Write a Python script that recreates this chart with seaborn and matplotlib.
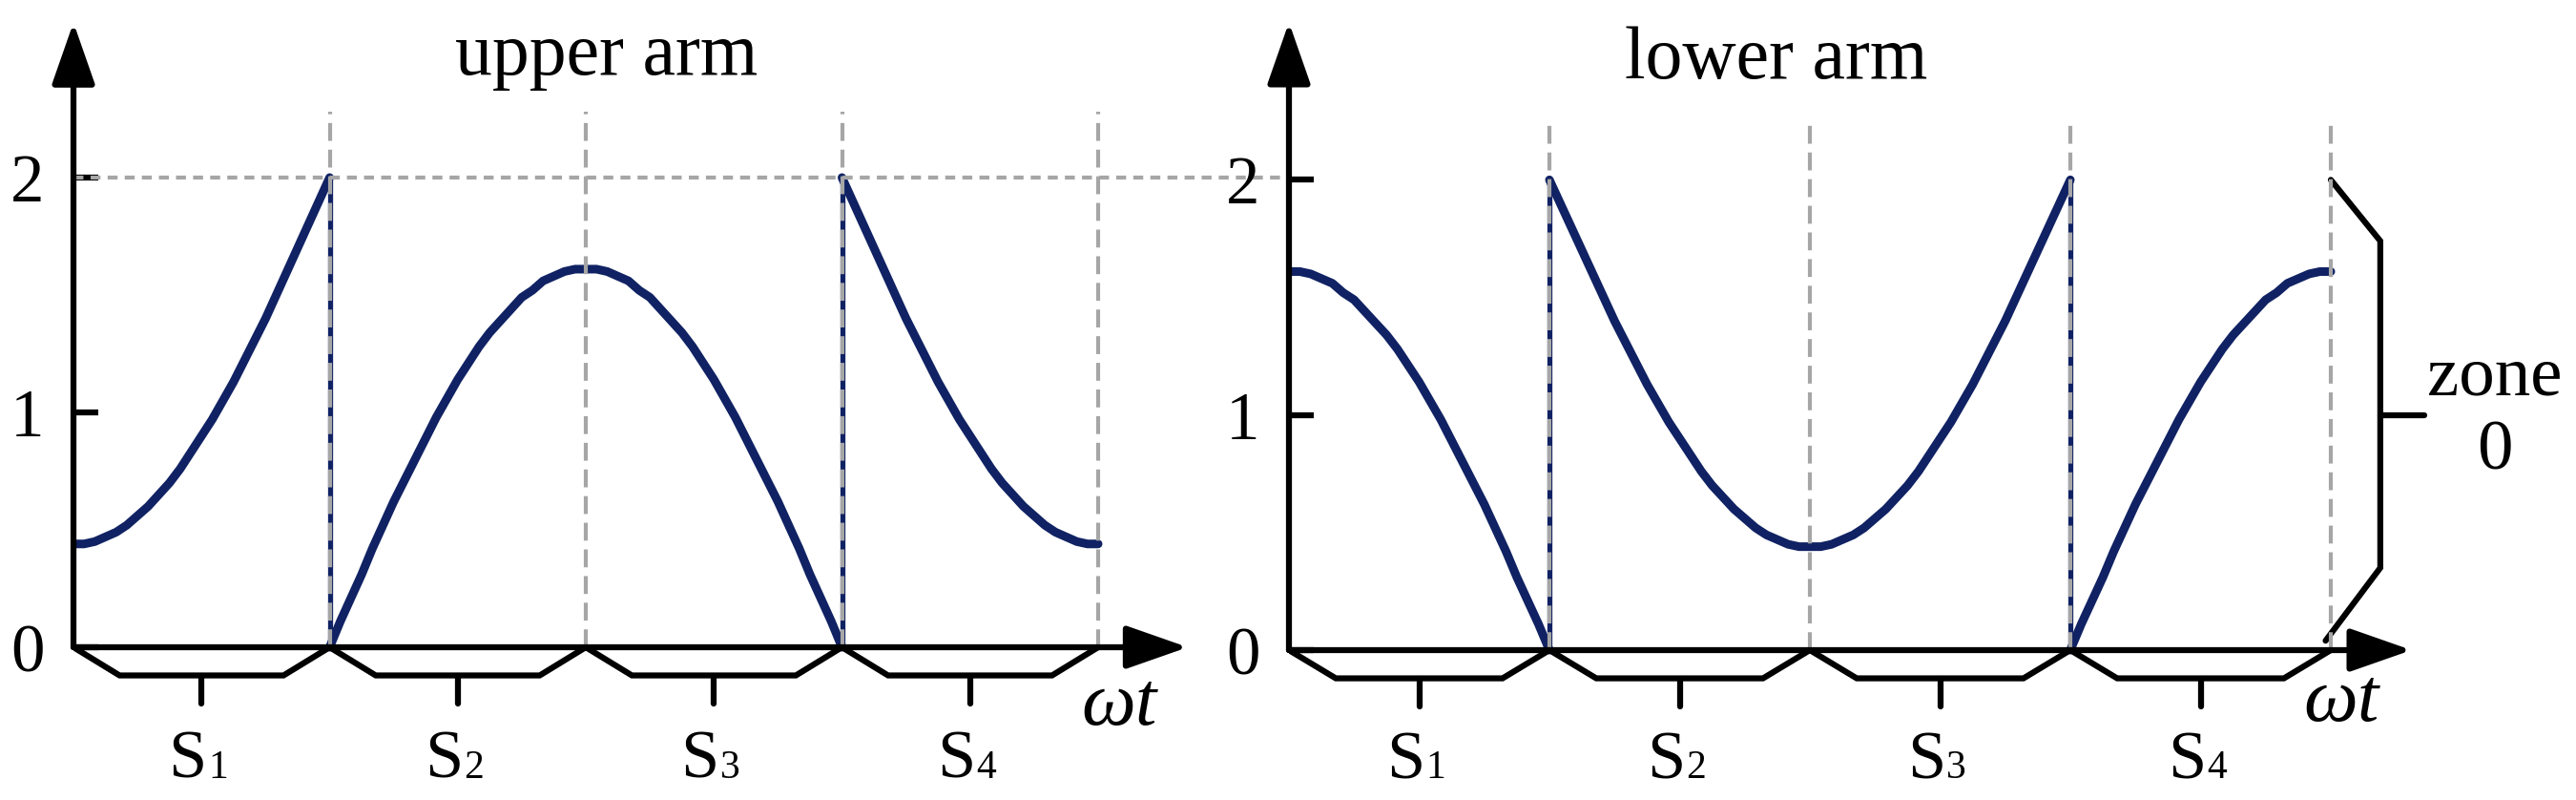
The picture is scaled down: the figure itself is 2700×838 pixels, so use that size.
import matplotlib
matplotlib.use('Agg')
import matplotlib.pyplot as plt
import numpy as np
import pandas as pd
import seaborn as sns

# values, 25 samples per sector
upper_s1 = [0.44, 0.44, 0.45, 0.47, 0.49, 0.52, 0.56, 0.60, 0.65, 0.70, 0.76, 0.83, 0.90,
            0.97, 1.05, 1.13, 1.22, 1.31, 1.40, 1.50, 1.60, 1.70, 1.80, 1.90, 2.00]
upper_s2 = [0.00, 0.11, 0.21, 0.31, 0.42, 0.52, 0.62, 0.71, 0.80, 0.89, 0.98, 1.06, 1.14,
            1.21, 1.28, 1.34, 1.39, 1.44, 1.49, 1.52, 1.56, 1.58, 1.60, 1.61, 1.61]
upper_s3 = [1.61, 1.61, 1.60, 1.58, 1.56, 1.52, 1.49, 1.44, 1.39, 1.34, 1.28, 1.21, 1.14,
            1.06, 0.98, 0.89, 0.80, 0.71, 0.62, 0.52, 0.42, 0.31, 0.21, 0.11, 0.00]
upper_s4 = [2.00, 1.90, 1.80, 1.70, 1.60, 1.50, 1.40, 1.31, 1.22, 1.13, 1.05, 0.97, 0.90,
            0.83, 0.76, 0.70, 0.65, 0.60, 0.56, 0.52, 0.49, 0.47, 0.45, 0.44, 0.44]

lower_s1 = [1.61, 1.61, 1.60, 1.58, 1.56, 1.52, 1.49, 1.44, 1.39, 1.34, 1.28, 1.21, 1.14,
            1.06, 0.98, 0.89, 0.80, 0.71, 0.62, 0.52, 0.42, 0.31, 0.21, 0.11, 0.00]
lower_s2 = [2.00, 1.90, 1.80, 1.70, 1.60, 1.50, 1.40, 1.31, 1.22, 1.13, 1.05, 0.97, 0.90,
            0.83, 0.76, 0.70, 0.65, 0.60, 0.56, 0.52, 0.49, 0.47, 0.45, 0.44, 0.44]
lower_s3 = [0.44, 0.44, 0.45, 0.47, 0.49, 0.52, 0.56, 0.60, 0.65, 0.70, 0.76, 0.83, 0.90,
            0.97, 1.05, 1.13, 1.22, 1.31, 1.40, 1.50, 1.60, 1.70, 1.80, 1.90, 2.00]
lower_s4 = [0.00, 0.11, 0.21, 0.31, 0.42, 0.52, 0.62, 0.71, 0.80, 0.89, 0.98, 1.06, 1.14,
            1.21, 1.28, 1.34, 1.39, 1.44, 1.49, 1.52, 1.56, 1.58, 1.60, 1.61, 1.61]

sector_letter = 'S'
sector_index = ['1', '2', '3', '4']
y_ticks = [0, 1, 2]
titles = ['upper arm', 'lower arm']
zone_label = 'zone\n0'

NAVY = '#102263'
GRAY = '#a6a6a6'

sns.set_theme(style='white')
plt.rcParams['font.family'] = ['Liberation Serif', 'DejaVu Serif']
plt.rcParams['text.color'] = 'black'
plt.rcParams['ytick.color'] = 'black'


def to_frame(segs):
    rows = []
    for k, vals in enumerate(segs):
        xs = np.linspace(k, k + 1, len(vals))
        for x, v in zip(xs, vals):
            rows.append({'x': x, 'y': v, 'sector': k})
    return pd.DataFrame(rows)


def draw_panel(ax, segs, title, title_pos, wt_pos, vtop, x_arrow, label_base):
    for s in ax.spines.values():
        s.set_visible(False)
    n = len(segs)
    df = to_frame(segs)
    sns.lineplot(data=df, x='x', y='y', units='sector', estimator=None,
                 color=NAVY, lw=6.5, ax=ax, zorder=2, sort=False)
    # vertical jumps between sectors
    for k in range(n - 1):
        a, b = segs[k][-1], segs[k + 1][0]
        if abs(a - b) > 0.05:
            ax.plot([k + 1, k + 1], [a, b], color=NAVY, lw=3.8, zorder=2)
    # sector boundaries
    for k in range(1, n + 1):
        ax.plot([k, k], [0, vtop], color=GRAY, lw=3, ls=(0, (4.5, 2.2)), zorder=4)
    # axes with arrow heads
    ymax = ax.get_ylim()[1]
    arrow = dict(arrowstyle='-|>,head_length=0.8,head_width=0.28', mutation_scale=50,
                 lw=4.5, color='black', shrinkA=0, shrinkB=0)
    ax.annotate('', xy=(0, ymax), xytext=(0, 0), arrowprops=arrow, zorder=5)
    ax.annotate('', xy=(x_arrow, 0), xytext=(0, 0), arrowprops=arrow, zorder=5)
    # sector braces under the axis
    for k in range(n):
        a, b = k, k + 1
        c = (a + b) / 2
        ax.plot([a, a + 0.18, b - 0.18, b], [0, -0.12, -0.12, 0], color='black', lw=4.5,
                solid_joinstyle='miter')
        ax.plot([c, c], [-0.12, -0.24], color='black', lw=4.5)
        ax.text(c + 0.02, label_base, sector_letter, ha='right', va='baseline', fontsize=52)
        ax.text(c + 0.025, label_base, sector_index[k], ha='left', va='baseline', fontsize=30)
    ax.text(wt_pos[0], wt_pos[1], 'ωt', style='italic', ha='center', va='center', fontsize=58)
    ax.text(title_pos[0], title_pos[1], title, ha='center', va='baseline', fontsize=56)
    ax.set_xticks([])
    ax.set_yticks(y_ticks)
    ax.set_yticklabels([str(t) for t in y_ticks])
    ax.tick_params(axis='y', left=True, direction='in', length=19, width=4.5,
                   pad=22, labelsize=51, colors='black')
    ax.set_xlabel('')
    ax.set_ylabel('')


W, H = 2700, 838
fig = plt.figure(figsize=(W / 100, H / 100), dpi=100)

# left panel: x=0 at 77px, 268.5 px/unit; y=0 at 678px from top, 246 px/unit
ax_l = fig.add_axes([77 / W, (H - 678 - 0.62 * 246) / H, 4.45 * 268.5 / W, 3.28 * 246 / H])
ax_l.set_xlim(0, 4.45)
ax_l.set_ylim(-0.62, 2.66)
# right panel: x=0 at 1351px, 273 px/unit; y=0 at 681px, 246.3 px/unit
ax_r = fig.add_axes([1351 / W, (H - 681 - 0.62 * 246.3) / H, 4.94 * 273 / W, 3.29 * 246.3 / H])
ax_r.set_xlim(0, 4.94)
ax_r.set_ylim(-0.62, 2.67)

draw_panel(ax_l, [upper_s1, upper_s2, upper_s3, upper_s4], titles[0], (2.08, 2.44),
           (4.08, -0.25), 2.28, 4.35, -0.555)
draw_panel(ax_r, [lower_s1, lower_s2, lower_s3, lower_s4], titles[1], (1.87, 2.43),
           (4.04, -0.22), 2.26, 4.31, -0.545)

# dotted level 2 running across both panels
disp = ax_r.transData.transform((4, 2))
x_end = ax_l.transData.inverted().transform(disp)[0]
ax_l.plot([0, x_end], [2, 2], color=GRAY, lw=3, ls=(0, (2.5, 1.8)), zorder=4, clip_on=False)

# zone 0 brace on the right
ax_r.plot([4.0, 4.19, 4.19, 3.98], [2.0, 1.74, 0.35, 0.04], color='black', lw=4.5,
          solid_joinstyle='miter')
ax_r.plot([4.19, 4.36], [1, 1], color='black', lw=4.5)
ax_r.text(4.63, 1.0, zone_label, ha='center', va='center', fontsize=54, linespacing=1.2)

fig.savefig('out.png', dpi=100)
